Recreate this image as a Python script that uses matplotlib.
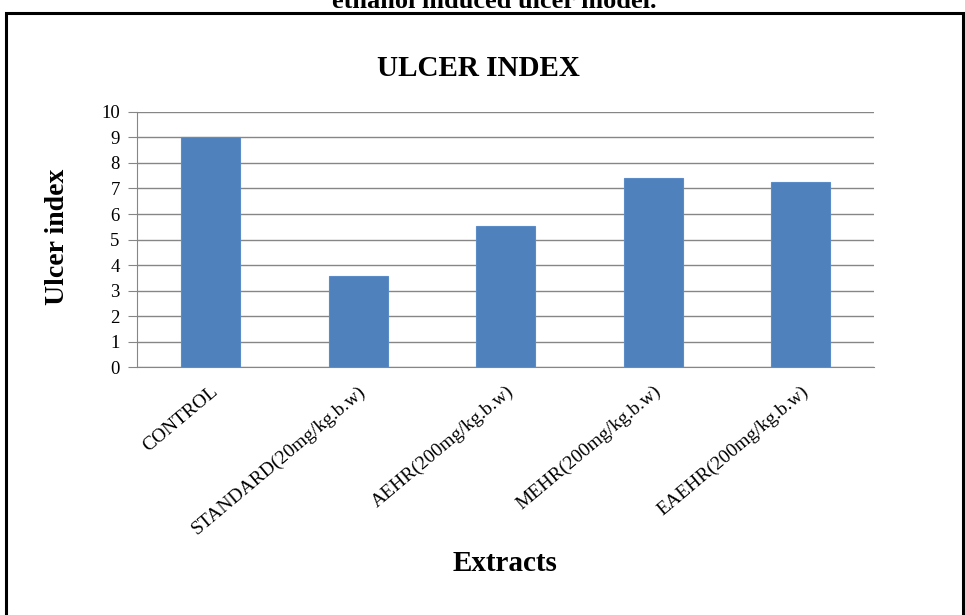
import matplotlib.pyplot as plt
from matplotlib.patches import Rectangle

# donnees
extraits = ["CONTROL", "STANDARD(20mg/kg.b.w)", "AEHR(200mg/kg.b.w)",
            "MEHR(200mg/kg.b.w)", "EAEHR(200mg/kg.b.w)"]
indice_ulcere = [9.0, 3.57, 5.54, 7.42, 7.27]
graduations = [0, 1, 2, 3, 4, 5, 6, 7, 8, 9, 10]

serif = ["Liberation Serif", "DejaVu Serif"]

fig = plt.figure(figsize=(9.65, 6.15), dpi=100)
ax = fig.add_axes([0.142, 0.403, 0.764, 0.415])

pos = list(range(len(extraits)))
ax.bar(pos, indice_ulcere, width=0.4, color="#4F81BD", edgecolor="#5B8CC8",
       linewidth=0.8, zorder=3)

ax.set_xlim(-0.5, len(extraits) - 0.5)
ax.set_ylim(0, 10)
ax.set_yticks(graduations)
ax.set_yticklabels([str(g) for g in graduations], fontsize=13.5, family=serif)
ax.yaxis.grid(True, color="#868686", linewidth=1.0, zorder=0)
ax.set_xticks(pos)
ax.set_xticklabels(extraits, rotation=40, ha="right", rotation_mode="anchor",
                   fontsize=14, family=serif)
ax.tick_params(axis="x", length=0, pad=11)
ax.tick_params(axis="y", length=6.5, color="#868686", pad=6)

for cote in ["top", "right"]:
    ax.spines[cote].set_visible(False)
ax.spines["left"].set_color("#868686")
ax.spines["bottom"].set_color("#868686")

ax.set_ylabel("Ulcer index", fontsize=20, fontweight="bold", family=serif, va="center")
ax.yaxis.set_label_coords(-0.108, 0.51)
fig.text(0.523, 0.083, "Extracts", ha="center", va="center", fontsize=21,
         fontweight="bold", family=serif)
fig.text(0.496, 0.888, "ULCER INDEX", ha="center", va="center", fontsize=21,
         fontweight="bold", family=serif)

# legende de la figure, coupee en haut
fig.text(0.512, 0.987, "ethanol induced ulcer model.", ha="center", va="baseline",
         fontsize=19, fontweight="bold", family=serif)

# cadre autour du graphique
cadre = Rectangle((0.006, -0.05), 0.992, 1.029, transform=fig.transFigure,
                  fill=False, edgecolor="black", linewidth=2.2)
fig.patches.append(cadre)

fig.savefig("out.png", dpi=100)
